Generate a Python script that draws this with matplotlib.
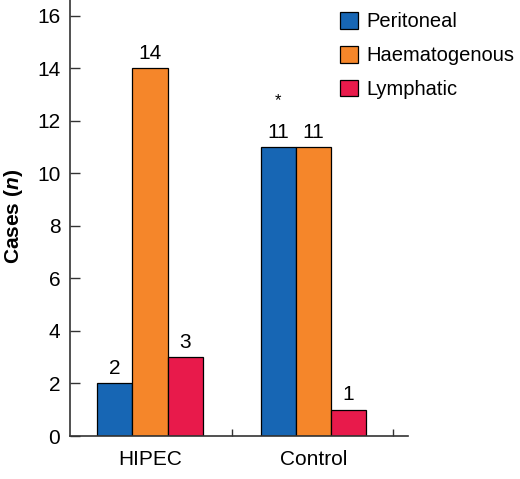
import matplotlib
matplotlib.use('Agg')
import matplotlib.pyplot as plt
import numpy as np

groups = ['HIPEC', 'Control']
series = ['Peritoneal', 'Haematogenous', 'Lymphatic']
peritoneal = [2, 11]
haematogenous = [14, 11]
lymphatic = [3, 1]
colors = ['#1766B4', '#F5862A', '#E81A4B']

plt.rcParams['font.family'] = ['Liberation Sans', 'DejaVu Sans']
plt.rcParams['mathtext.fontset'] = 'custom'
plt.rcParams['mathtext.it'] = 'Liberation Sans:italic:bold'

fs = 15

fig = plt.figure(figsize=(5.2, 4.79), dpi=100)
ax = fig.add_axes([70 / 520, 43 / 479, 338 / 520, 436 / 479])

x = np.arange(len(groups))
w = 0.215
for i, (vals, name) in enumerate(zip([peritoneal, haematogenous, lymphatic], series)):
    pos = x + (i - 1) * w
    ax.bar(pos, vals, width=w, color=colors[i], edgecolor='black', linewidth=0.9, label=name)
    for p, v in zip(pos, vals):
        ax.text(p, v + 0.2, str(v), ha='center', va='bottom', fontsize=fs)

# significance marker above control peritoneal
ax.text(x[1] - w, 12.5, '*', ha='center', va='bottom', fontsize=12)

ax.set_xlim(-0.49, 1.58)
ax.set_ylim(0, 16.6)
ax.set_yticks(range(0, 17, 2))
ax.set_xticks(x)
ax.set_xticklabels(groups, fontsize=fs)
ax.set_xticks([0.5, 1.49], minor=True)
ax.tick_params(axis='x', which='major', length=0, pad=10)
ax.tick_params(axis='x', which='minor', direction='in', length=5, width=1, color='#333333')
ax.tick_params(axis='y', direction='in', length=7, width=1, labelsize=fs, pad=7, color='#333333')
for s in ['top', 'right']:
    ax.spines[s].set_visible(False)
for s in ['left', 'bottom']:
    ax.spines[s].set_linewidth(1.2)
    ax.spines[s].set_color('#333333')

fig.text(14 / 520, 1 - 216 / 479, r'Cases ($n$)', rotation=90, ha='center', va='center',
         fontsize=fs, fontweight='bold')

leg = fig.legend(loc='upper left', bbox_to_anchor=(340 / 520, 1 - 12 / 479), frameon=False, fontsize=14.5,
                 handlelength=0.9, handleheight=0.9, handletextpad=0.42, labelspacing=0.72,
                 borderpad=0, borderaxespad=0)

fig.savefig('out.png', dpi=100)
